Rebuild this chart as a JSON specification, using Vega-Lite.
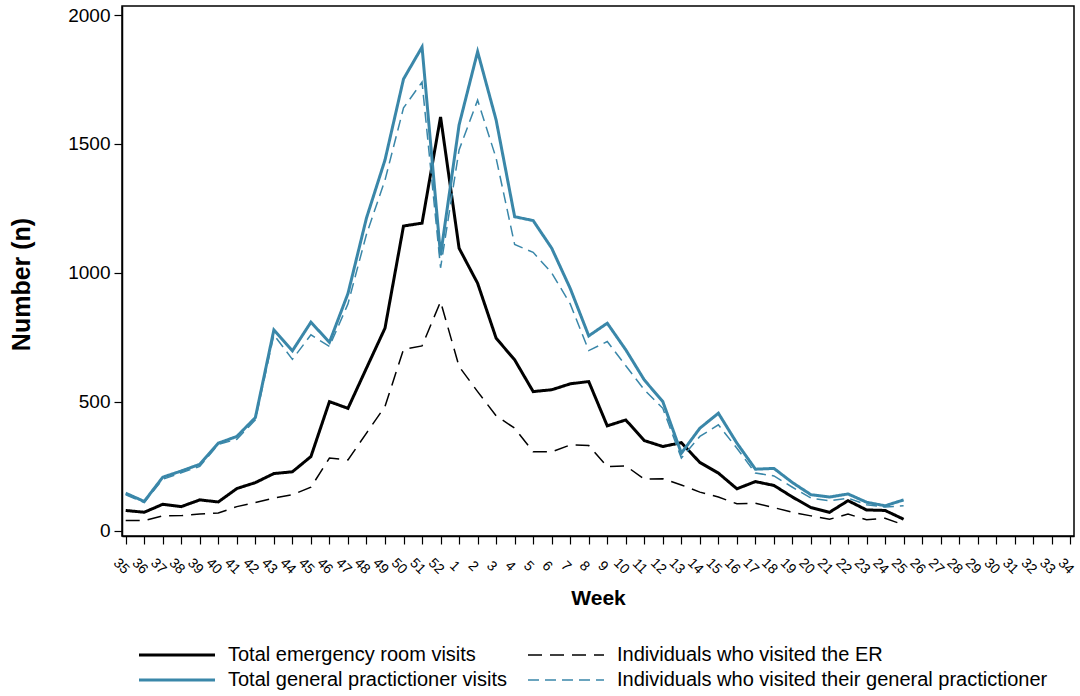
{
  "$schema": "https://vega.github.io/schema/vega-lite/v6.json",
  "width": 952,
  "height": 530,
  "autosize": {"type": "none"},
  "padding": {"left": 122, "top": 6, "right": 6, "bottom": 160},
  "background": "white",
  "config": {
    "view": {"stroke": "#000000", "strokeWidth": 1.5},
    "font": "Liberation Sans",
    "axis": {
      "domainColor": "#000000",
      "domainWidth": 1.5,
      "tickColor": "#000000",
      "tickWidth": 1.2,
      "tickSize": 8,
      "grid": false,
      "labelColor": "#000000",
      "titleColor": "#000000",
      "labelFont": "Liberation Sans",
      "titleFont": "Liberation Sans"
    }
  },
  "data": {
    "values": [
      {"week": "35", "Total emergency room visits": 79, "Individuals who visited the ER": 40, "Total general practictioner visits": 146, "Individuals who visited their general practictioner": 140},
      {"week": "36", "Total emergency room visits": 72, "Individuals who visited the ER": 40, "Total general practictioner visits": 114, "Individuals who visited their general practictioner": 110},
      {"week": "37", "Total emergency room visits": 103, "Individuals who visited the ER": 58, "Total general practictioner visits": 208, "Individuals who visited their general practictioner": 200},
      {"week": "38", "Total emergency room visits": 94, "Individuals who visited the ER": 59, "Total general practictioner visits": 232, "Individuals who visited their general practictioner": 225},
      {"week": "39", "Total emergency room visits": 120, "Individuals who visited the ER": 65, "Total general practictioner visits": 258, "Individuals who visited their general practictioner": 250},
      {"week": "40", "Total emergency room visits": 112, "Individuals who visited the ER": 69, "Total general practictioner visits": 340, "Individuals who visited their general practictioner": 335},
      {"week": "41", "Total emergency room visits": 164, "Individuals who visited the ER": 94, "Total general practictioner visits": 366, "Individuals who visited their general practictioner": 355},
      {"week": "42", "Total emergency room visits": 187, "Individuals who visited the ER": 110, "Total general practictioner visits": 439, "Individuals who visited their general practictioner": 430},
      {"week": "43", "Total emergency room visits": 222, "Individuals who visited the ER": 127, "Total general practictioner visits": 779, "Individuals who visited their general practictioner": 760},
      {"week": "44", "Total emergency room visits": 229, "Individuals who visited the ER": 140, "Total general practictioner visits": 698, "Individuals who visited their general practictioner": 665},
      {"week": "45", "Total emergency room visits": 288, "Individuals who visited the ER": 169, "Total general practictioner visits": 809, "Individuals who visited their general practictioner": 760},
      {"week": "46", "Total emergency room visits": 501, "Individuals who visited the ER": 282, "Total general practictioner visits": 731, "Individuals who visited their general practictioner": 715},
      {"week": "47", "Total emergency room visits": 475, "Individuals who visited the ER": 275, "Total general practictioner visits": 920, "Individuals who visited their general practictioner": 880},
      {"week": "48", "Total emergency room visits": 631, "Individuals who visited the ER": 379, "Total general practictioner visits": 1213, "Individuals who visited their general practictioner": 1150},
      {"week": "49", "Total emergency room visits": 786, "Individuals who visited the ER": 482, "Total general practictioner visits": 1438, "Individuals who visited their general practictioner": 1360},
      {"week": "50", "Total emergency room visits": 1182, "Individuals who visited the ER": 704, "Total general practictioner visits": 1752, "Individuals who visited their general practictioner": 1640},
      {"week": "51", "Total emergency room visits": 1193, "Individuals who visited the ER": 717, "Total general practictioner visits": 1876, "Individuals who visited their general practictioner": 1740},
      {"week": "52", "Total emergency room visits": 1605, "Individuals who visited the ER": 889, "Total general practictioner visits": 1068, "Individuals who visited their general practictioner": 1020},
      {"week": "1", "Total emergency room visits": 1096, "Individuals who visited the ER": 637, "Total general practictioner visits": 1574, "Individuals who visited their general practictioner": 1477},
      {"week": "2", "Total emergency room visits": 960, "Individuals who visited the ER": 540, "Total general practictioner visits": 1858, "Individuals who visited their general practictioner": 1670},
      {"week": "3", "Total emergency room visits": 747, "Individuals who visited the ER": 446, "Total general practictioner visits": 1593, "Individuals who visited their general practictioner": 1445},
      {"week": "4", "Total emergency room visits": 663, "Individuals who visited the ER": 398, "Total general practictioner visits": 1218, "Individuals who visited their general practictioner": 1110},
      {"week": "5", "Total emergency room visits": 540, "Individuals who visited the ER": 307, "Total general practictioner visits": 1203, "Individuals who visited their general practictioner": 1080},
      {"week": "6", "Total emergency room visits": 547, "Individuals who visited the ER": 306, "Total general practictioner visits": 1096, "Individuals who visited their general practictioner": 1000},
      {"week": "7", "Total emergency room visits": 570, "Individuals who visited the ER": 333, "Total general practictioner visits": 940, "Individuals who visited their general practictioner": 880},
      {"week": "8", "Total emergency room visits": 579, "Individuals who visited the ER": 331, "Total general practictioner visits": 756, "Individuals who visited their general practictioner": 699},
      {"week": "9", "Total emergency room visits": 407, "Individuals who visited the ER": 249, "Total general practictioner visits": 805, "Individuals who visited their general practictioner": 734},
      {"week": "10", "Total emergency room visits": 430, "Individuals who visited the ER": 252, "Total general practictioner visits": 702, "Individuals who visited their general practictioner": 640},
      {"week": "11", "Total emergency room visits": 350, "Individuals who visited the ER": 200, "Total general practictioner visits": 585, "Individuals who visited their general practictioner": 547},
      {"week": "12", "Total emergency room visits": 327, "Individuals who visited the ER": 202, "Total general practictioner visits": 501, "Individuals who visited their general practictioner": 475},
      {"week": "13", "Total emergency room visits": 342, "Individuals who visited the ER": 178, "Total general practictioner visits": 301, "Individuals who visited their general practictioner": 282},
      {"week": "14", "Total emergency room visits": 265, "Individuals who visited the ER": 150, "Total general practictioner visits": 398, "Individuals who visited their general practictioner": 366},
      {"week": "15", "Total emergency room visits": 224, "Individuals who visited the ER": 131, "Total general practictioner visits": 456, "Individuals who visited their general practictioner": 411},
      {"week": "16", "Total emergency room visits": 163, "Individuals who visited the ER": 105, "Total general practictioner visits": 340, "Individuals who visited their general practictioner": 320},
      {"week": "17", "Total emergency room visits": 191, "Individuals who visited the ER": 107, "Total general practictioner visits": 239, "Individuals who visited their general practictioner": 224},
      {"week": "18", "Total emergency room visits": 176, "Individuals who visited the ER": 90, "Total general practictioner visits": 242, "Individuals who visited their general practictioner": 213},
      {"week": "19", "Total emergency room visits": 131, "Individuals who visited the ER": 72, "Total general practictioner visits": 187, "Individuals who visited their general practictioner": 169},
      {"week": "20", "Total emergency room visits": 90, "Individuals who visited the ER": 58, "Total general practictioner visits": 140, "Individuals who visited their general practictioner": 127},
      {"week": "21", "Total emergency room visits": 72, "Individuals who visited the ER": 45, "Total general practictioner visits": 131, "Individuals who visited their general practictioner": 116},
      {"week": "22", "Total emergency room visits": 117, "Individuals who visited the ER": 65, "Total general practictioner visits": 143, "Individuals who visited their general practictioner": 127},
      {"week": "23", "Total emergency room visits": 81, "Individuals who visited the ER": 43, "Total general practictioner visits": 111, "Individuals who visited their general practictioner": 101},
      {"week": "24", "Total emergency room visits": 79, "Individuals who visited the ER": 49, "Total general practictioner visits": 97, "Individuals who visited their general practictioner": 92},
      {"week": "25", "Total emergency room visits": 45, "Individuals who visited the ER": 23, "Total general practictioner visits": 120, "Individuals who visited their general practictioner": 97}
    ]
  },
  "transform": [
    {"fold": ["Total emergency room visits", "Individuals who visited the ER", "Total general practictioner visits", "Individuals who visited their general practictioner"], "as": ["series", "n"]}
  ],
  "mark": {"type": "line", "strokeJoin": "miter", "strokeCap": "butt"},
  "encoding": {
    "x": {
      "field": "week",
      "type": "ordinal",
      "scale": {
        "type": "point",
        "padding": 0.2,
        "domain": ["35","36","37","38","39","40","41","42","43","44","45","46","47","48","49","50","51","52","1","2","3","4","5","6","7","8","9","10","11","12","13","14","15","16","17","18","19","20","21","22","23","24","25","26","27","28","29","30","31","32","33","34"]
      },
      "axis": {
        "title": "Week",
        "titleFontSize": 21,
        "titleFontWeight": "bold",
        "titleBaseline": "middle",
        "titleY": 62,
        "labelAngle": 45,
        "labelAlign": "center",
        "labelBaseline": "middle",
        "labelFontSize": 14,
        "labelPadding": 22,
        "labelOffset": -5,
        "labelOverlap": false
      }
    },
    "y": {
      "field": "n",
      "type": "quantitative",
      "scale": {"domain": [-20, 2035], "nice": false, "zero": false},
      "axis": {
        "title": "Number (n)",
        "values": [0, 500, 1000, 1500, 2000],
        "format": "d",
        "titleFontSize": 25,
        "titleFontWeight": "bold",
        "titleBaseline": "middle",
        "titleX": -101,
        "titleY": 278,
        "labelFontSize": 19,
        "labelPadding": 4
      }
    },
    "color": {
      "field": "series",
      "type": "nominal",
      "scale": {
        "domain": ["Total emergency room visits", "Individuals who visited the ER", "Total general practictioner visits", "Individuals who visited their general practictioner"],
        "range": ["#000000", "#000000", "#3a87a9", "#3a87a9"]
      },
      "legend": {
        "title": null,
        "orient": "none",
        "legendX": 45,
        "legendY": 639,
        "direction": "horizontal",
        "columns": 2,
        "columnPadding": 17,
        "rowPadding": 5,
        "padding": 0,
        "symbolType": "M-5,0H5",
        "symbolSize": 231,
        "labelFontSize": 20,
        "labelFont": "Liberation Sans",
        "labelColor": "#000000",
        "labelOffset": 41,
        "labelLimit": 600
      }
    },
    "strokeDash": {
      "field": "series",
      "type": "nominal",
      "scale": {
        "domain": ["Total emergency room visits", "Individuals who visited the ER", "Total general practictioner visits", "Individuals who visited their general practictioner"],
        "range": [[1, 0], [14, 8], [1, 0], [11, 6]]
      }
    },
    "strokeWidth": {
      "field": "series",
      "type": "nominal",
      "scale": {
        "type": "ordinal",
        "domain": ["Total emergency room visits", "Individuals who visited the ER", "Total general practictioner visits", "Individuals who visited their general practictioner"],
        "range": [3, 1.5, 3, 1.5]
      }
    }
  }
}
